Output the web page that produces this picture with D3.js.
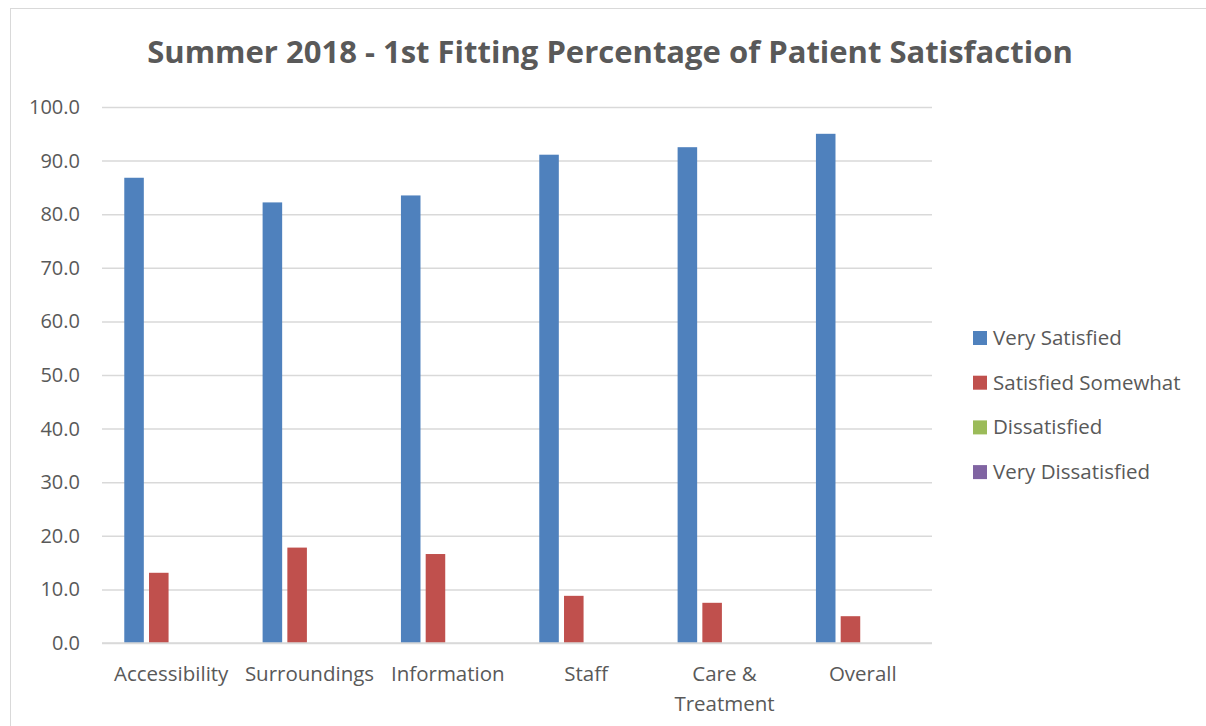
<!DOCTYPE html>
<html>
<head>
<meta charset="utf-8">
<script src="https://cdn.jsdelivr.net/npm/d3@7"></script>
<style>
  body { margin: 0; background: #fff; }
  text { font-family: "Open Sans", "Noto Sans", sans-serif; fill: #595959; }
</style>
</head>
<body>
<div id="chart"></div>
<script>
// data
var categories = ["Accessibility", "Surroundings", "Information", "Staff", "Care & Treatment", "Overall"];
var series = ["Very Satisfied", "Satisfied Somewhat", "Dissatisfied", "Very Dissatisfied"];
var verySatisfied = [86.8, 82.2, 83.5, 91.1, 92.5, 95.0];
var satisfiedSomewhat = [13.1, 17.8, 16.6, 8.8, 7.5, 5.0];
var dissatisfied = [0, 0, 0, 0, 0, 0];
var veryDissatisfied = [0, 0, 0, 0, 0, 0];
var yTicks = [0, 10, 20, 30, 40, 50, 60, 70, 80, 90, 100];
var colors = ["#4F81BD", "#C0504D", "#9BBB59", "#8064A2"];

var values = [verySatisfied, satisfiedSomewhat, dissatisfied, veryDissatisfied];

var W = 1206, H = 726;
var margin = {top: 107, right: 274, bottom: 83, left: 102},
    width = W - margin.left - margin.right,
    height = H - margin.top - margin.bottom;

var root = d3.select("#chart")
  .append("svg")
    .attr("width", W)
    .attr("height", H);

// chart border
root.append("rect")
  .attr("x", 10.5).attr("y", 8.5)
  .attr("width", W).attr("height", H)
  .attr("fill", "none")
  .attr("stroke", "#d9d9d9")
  .attr("stroke-width", 1);

root.append("text")
  .attr("x", 610)
  .attr("y", 63)
  .attr("text-anchor", "middle")
  .style("font-size", "31px")
  .style("font-weight", "bold")
  .text("Summer 2018 - 1st Fitting Percentage of Patient Satisfaction");

var svg = root.append("g")
  .attr("transform", "translate(" + margin.left + "," + margin.top + ")");

var x0 = d3.scaleBand()
  .domain(categories)
  .range([0, width])
  .padding(0);

var x1 = d3.scaleBand()
  .domain(series)
  .range([0, x0.bandwidth()])
  .paddingInner(0.21)
  .paddingOuter(0.9);

var y = d3.scaleLinear()
  .domain([0, 100])
  .range([height, 0]);

// gridlines
svg.append("g")
  .call(d3.axisLeft(y).tickValues(yTicks).tickSize(-width).tickFormat(""))
  .call(function(g) {
    g.select(".domain").remove();
    g.selectAll("line").attr("stroke", "#d9d9d9").attr("stroke-width", 1.5);
  });

// y labels
svg.append("g")
  .call(d3.axisLeft(y).tickValues(yTicks).tickSize(0).tickPadding(22).tickFormat(d3.format(".1f")))
  .call(function(g) {
    g.select(".domain").remove();
    g.selectAll("text").style("font-size", "20px").attr("fill", "#595959");
  });

// bars
series.forEach(function(s, i) {
  svg.append("g")
    .selectAll("rect")
    .data(categories)
    .enter()
    .append("rect")
      .attr("x", function(c) { return x0(c) + x1(s); })
      .attr("y", function(c, j) { return y(values[i][j]); })
      .attr("width", x1.bandwidth())
      .attr("height", function(c, j) { return height - y(values[i][j]); })
      .attr("fill", colors[i]);
});

// x axis line
svg.append("line")
  .attr("x1", 0).attr("x2", width)
  .attr("y1", height).attr("y2", height)
  .attr("stroke", "#d9d9d9")
  .attr("stroke-width", 1.5);

// x labels (wrap Care & Treatment)
var xl = svg.append("g")
  .selectAll("text")
  .data(categories)
  .enter()
  .append("text")
    .attr("x", function(c) { return x0(c) + x0.bandwidth() / 2; })
    .attr("y", height + 38)
    .attr("text-anchor", "middle")
    .style("font-size", "20.5px");
xl.each(function(c) {
  var t = d3.select(this);
  var lines = c == "Care & Treatment" ? ["Care &", "Treatment"] : [c];
  lines.forEach(function(l, k) {
    t.append("tspan")
      .attr("x", x0(c) + x0.bandwidth() / 2)
      .attr("dy", k == 0 ? 0 : 30)
      .text(l);
  });
});

// legend
var legend = root.append("g")
  .attr("transform", "translate(973,331)");
series.forEach(function(s, i) {
  var row = legend.append("g").attr("transform", "translate(0," + (i * 44.7) + ")");
  row.append("rect")
    .attr("width", 14).attr("height", 14)
    .attr("fill", colors[i]);
  row.append("text")
    .attr("x", 20).attr("y", 14)
    .style("font-size", "20.5px")
    .text(s);
});
</script>
</body>
</html>
